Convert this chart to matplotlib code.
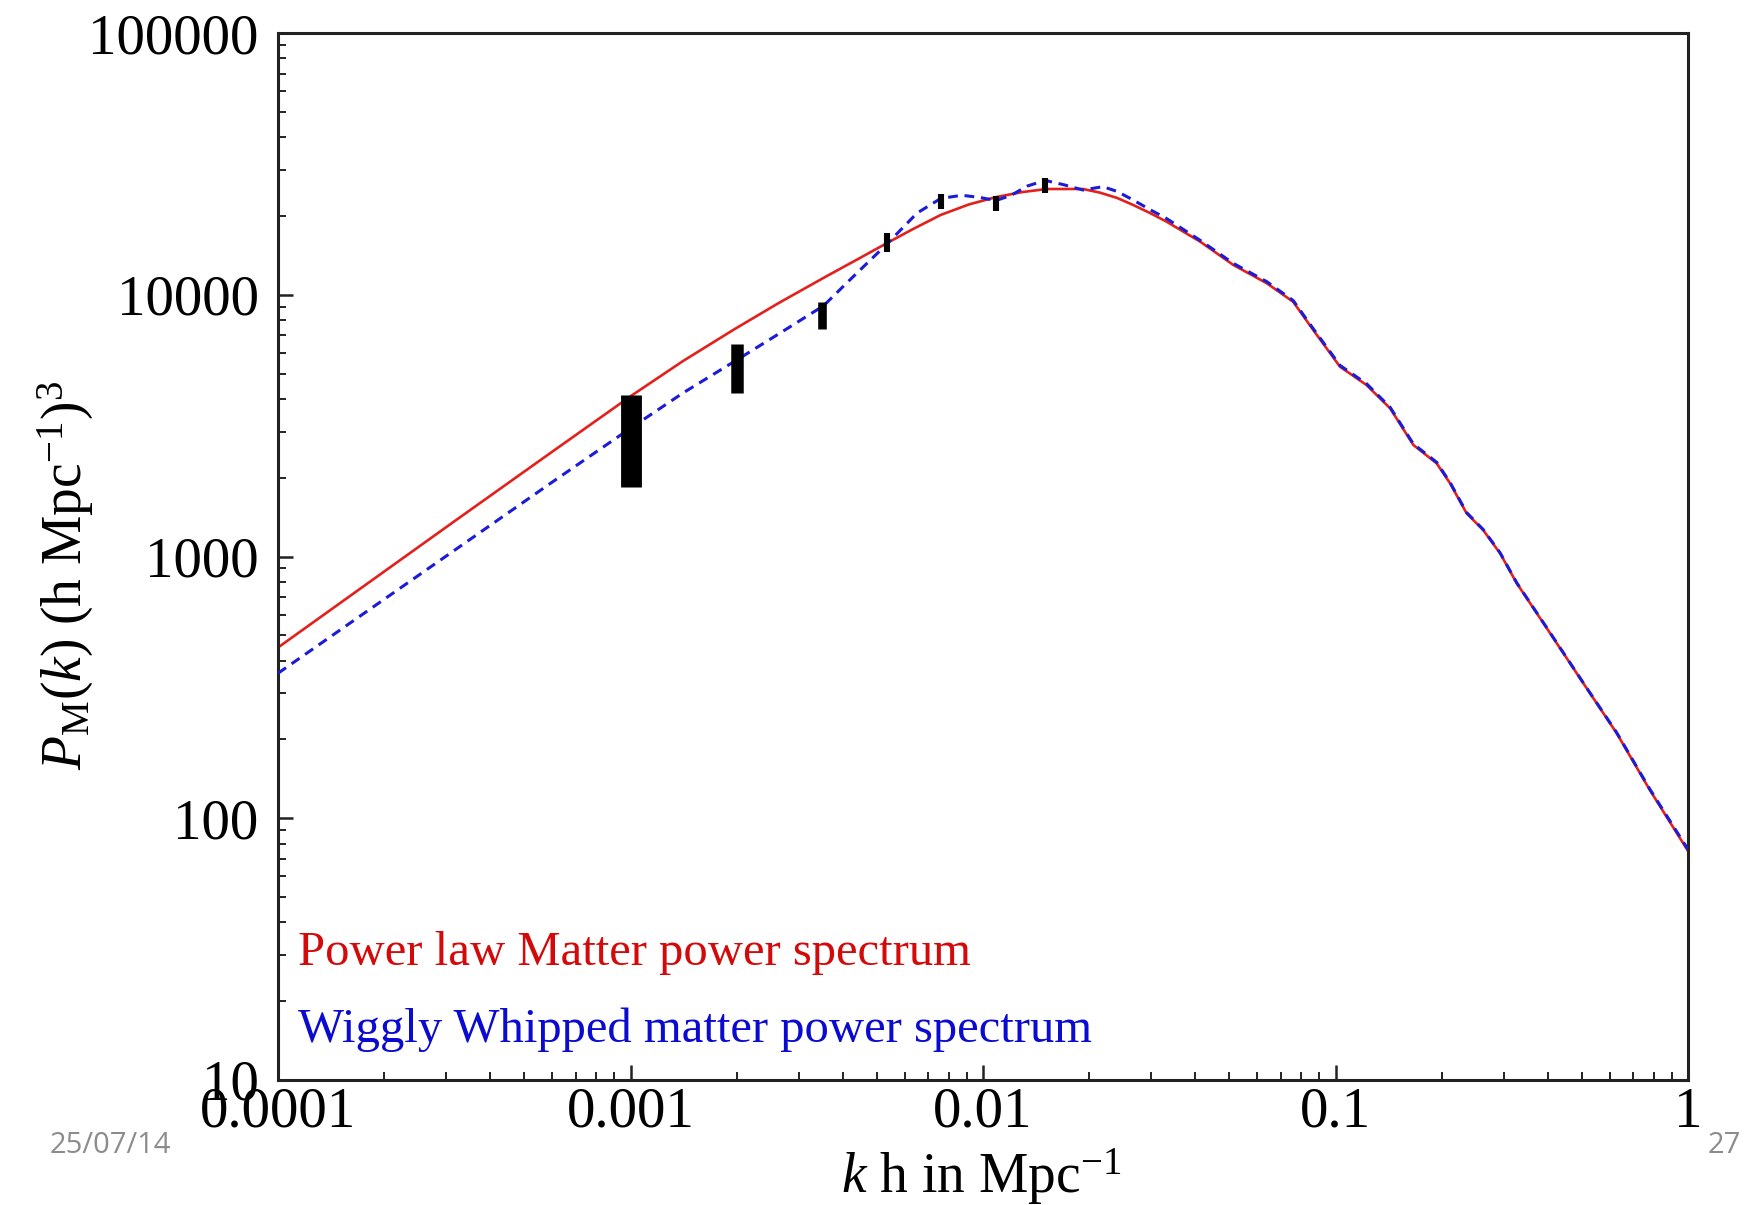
import matplotlib
matplotlib.use("Agg")
import matplotlib.pyplot as plt
from matplotlib.ticker import FixedLocator, FixedFormatter, LogLocator, NullFormatter

plt.rcParams['font.family'] = ['Liberation Serif', 'DejaVu Serif']
plt.rcParams['mathtext.fontset'] = 'custom'
plt.rcParams['mathtext.rm'] = 'Liberation Serif'
plt.rcParams['mathtext.it'] = 'Liberation Serif:italic'
plt.rcParams['mathtext.bf'] = 'Liberation Serif:bold'

# ---- data ----
k_red = [0.0001, 0.000316, 0.000592, 0.001, 0.00141, 0.00197, 0.00263, 0.00357,
         0.00447, 0.00535, 0.00631, 0.00759, 0.00912, 0.01089, 0.01288, 0.01514,
         0.01923, 0.02148, 0.02399, 0.02667, 0.02979, 0.03319, 0.04130, 0.05129,
         0.06383, 0.07586, 0.08650, 0.1030, 0.1225, 0.1429, 0.1663, 0.1936,
         0.2113, 0.2355, 0.2624, 0.2931, 0.3266, 0.4064, 0.5047, 0.6281, 0.7798, 1.0]
P_red = [449, 1361, 2483, 4093, 5585, 7380, 9290, 11700,
         13804, 15776, 17783, 20184, 22131, 23605, 24660, 25351,
         25351, 24547, 23442, 22029, 20512, 19011, 15959, 13002,
         11066, 9397, 7328, 5309, 4519, 3681, 2667, 2270,
         1905, 1462, 1262, 1028, 791, 509, 328, 211, 128, 75]

k_blue = [0.0001, 0.000316, 0.000592, 0.001, 0.00141, 0.00197, 0.00263, 0.00353,
          0.00420, 0.00535, 0.00650, 0.00759, 0.00871, 0.00977, 0.01089, 0.01202,
          0.01334, 0.01500, 0.01698, 0.01923, 0.02188, 0.02399, 0.02667, 0.02979,
          0.03327, 0.04130, 0.05129, 0.06383, 0.07586, 0.08650, 0.1030, 0.1225,
          0.1429, 0.1663, 0.1936, 0.2113, 0.2355, 0.2624, 0.2931, 0.3266, 0.4064,
          0.5047, 0.6281, 0.7798, 1.0]
P_blue = [358, 1054, 1901, 3090, 4217, 5559, 7079, 9078,
          11429, 15668, 20512, 23335, 23988, 23550, 22909, 23988,
          26002, 27353, 26303, 25119, 25882, 24831, 23014, 21135,
          19498, 16144, 13183, 11220, 9506, 7413, 5370, 4571,
          3715, 2692, 2291, 1919, 1472, 1268, 1033, 794, 511,
          329, 212, 129, 76]

k_err = [0.001, 0.002, 0.0035, 0.00535, 0.0076, 0.0109, 0.0150]
P_err_lo = [1850, 4220, 7400, 14550, 21300, 20900, 24500]
P_err_hi = [4140, 6490, 9380, 17200, 24300, 23800, 27900]

x_ticks = [0.0001, 0.001, 0.01, 0.1, 1]
x_tick_labels = ['0.0001', '0.001', '0.01', '0.1', '1']
y_ticks = [10, 100, 1000, 10000, 100000]
y_tick_labels = ['10', '100', '1000', '10000', '100000']

label_red = 'Power law Matter power spectrum'
label_blue = 'Wiggly Whipped matter power spectrum'
date_text = '25/07/14'
page_text = '27'

# ---- figure ----
W, H = 1744, 1205
fig = plt.figure(figsize=(W / 100, H / 100), dpi=100)
ax = fig.add_axes([278 / W, 1 - 1080 / H, 1410 / W, 1047 / H])
ax.set_xscale('log')
ax.set_yscale('log')
ax.set_xlim(1e-4, 1)
ax.set_ylim(10, 1e5)

ax.plot(k_red, P_red, color='#e3201c', lw=1.9, zorder=2)
ax.plot(k_blue, P_blue, color='#1c1cd6', lw=2.2, ls=(0, (3.2, 2.2)), zorder=3)

err_widths = [15, 9, 6.2, 4.4, 4.4, 4.4, 4.4]
ax.vlines(k_err, P_err_lo, P_err_hi, colors='black', linewidths=err_widths, zorder=4)

ax.xaxis.set_major_locator(FixedLocator(x_ticks))
ax.xaxis.set_major_formatter(FixedFormatter(x_tick_labels))
ax.yaxis.set_major_locator(FixedLocator(y_ticks))
ax.yaxis.set_major_formatter(FixedFormatter(y_tick_labels))
ax.xaxis.set_minor_locator(LogLocator(base=10, subs=range(2, 10), numticks=20))
ax.yaxis.set_minor_locator(LogLocator(base=10, subs=range(2, 10), numticks=20))
ax.xaxis.set_minor_formatter(NullFormatter())
ax.yaxis.set_minor_formatter(NullFormatter())

ax.tick_params(which='both', direction='in', top=False, right=False, color='#222222')
ax.tick_params(which='major', length=11, width=1.8, labelsize=41)
ax.tick_params(which='minor', length=5.5, width=1.4)
ax.tick_params(axis='x', which='major', pad=5)
ax.tick_params(axis='y', which='major', pad=14)
for s in ax.spines.values():
    s.set_linewidth(2.2)
    s.set_color('#222222')

ax.set_xlabel(r'$k$ h in Mpc$^{\mathregular{-1}}$', fontsize=40)
ax.xaxis.set_label_coords(0.4986, -0.063)
ax.set_ylabel(r'$P_{\mathrm{M}}(k)$ (h Mpc$^{-1}$)$^{3}$', fontsize=40)
ax.yaxis.set_label_coords(-0.129, 0.482)

ax.text(0.0142, 0.110, label_red, transform=ax.transAxes, color='#d40a0a',
        fontsize=35, va='baseline', ha='left')
ax.text(0.0142, 0.0363, label_blue, transform=ax.transAxes, color='#0a0ad0',
        fontsize=35, va='baseline', ha='left')

fig.text(50 / W, 1 - 1153 / H, date_text, family=['Open Sans', 'DejaVu Sans'],
         fontsize=21, color='#8c8c8c', va='baseline', ha='left')
fig.text(1741 / W, 1 - 1153 / H, page_text, family=['Open Sans', 'DejaVu Sans'],
         fontsize=21, color='#8c8c8c', va='baseline', ha='right')

fig.savefig('out.png', dpi=100)
